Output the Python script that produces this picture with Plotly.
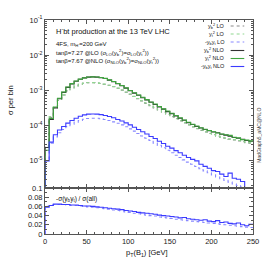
import plotly.graph_objects as go

# ---------------- data ----------------
bin_edges = list(range(0, 255, 5))  # 0..250, 50 bins

yb2_lo = [2.6e-5, 1.7e-4, 3.2e-4, 5.2e-4, 7.4e-4, 9.7e-4, 1.18e-3, 1.35e-3, 1.5e-3, 1.6e-3,
          1.65e-3, 1.66e-3, 1.63e-3, 1.58e-3, 1.5e-3, 1.4e-3, 1.28e-3, 1.15e-3, 1.02e-3, 8.9e-4,
          7.8e-4, 6.7e-4, 5.8e-4, 5.0e-4, 4.3e-4, 3.7e-4, 3.2e-4, 2.8e-4, 2.4e-4, 2.1e-4,
          1.8e-4, 1.58e-4, 1.37e-4, 1.2e-4, 1.05e-4, 9.2e-5, 8.2e-5, 7.3e-5, 6.6e-5, 6.0e-5,
          5.5e-5, 5.0e-5, 4.7e-5, 4.4e-5, 4.1e-5, 3.9e-5, 3.7e-5, 3.5e-5, 3.3e-5, 3.2e-5]
yt2_lo = [2.4e-5, 1.8e-4, 3.3e-4, 5.3e-4, 7.5e-4, 9.8e-4, 1.19e-3, 1.36e-3, 1.5e-3, 1.61e-3,
          1.66e-3, 1.67e-3, 1.64e-3, 1.59e-3, 1.51e-3, 1.41e-3, 1.29e-3, 1.16e-3, 1.03e-3, 9.0e-4,
          7.9e-4, 6.8e-4, 5.9e-4, 5.1e-4, 4.4e-4, 3.8e-4, 3.3e-4, 2.85e-4, 2.45e-4, 2.15e-4,
          1.85e-4, 1.6e-4, 1.4e-4, 1.22e-4, 1.07e-4, 9.4e-5, 8.3e-5, 7.5e-5, 6.7e-5, 6.1e-5,
          5.6e-5, 5.1e-5, 4.8e-5, 4.5e-5, 4.2e-5, 4.0e-5, 3.8e-5, 3.6e-5, 3.4e-5, 3.3e-5]
ybyt_lo = [1.1e-5, 3.2e-5, 4.8e-5, 6.3e-5, 7.8e-5, 9.4e-5, 1.1e-4, 1.26e-4, 1.4e-4, 1.52e-4,
           1.6e-4, 1.63e-4, 1.62e-4, 1.57e-4, 1.5e-4, 1.4e-4, 1.28e-4, 1.17e-4, 1.05e-4, 9.3e-5,
           8.1e-5, 7.0e-5, 6.0e-5, 5.1e-5, 4.4e-5, 3.8e-5, 3.2e-5, 2.75e-5, 2.35e-5, 2.0e-5,
           1.7e-5, 1.45e-5, 1.25e-5, 1.07e-5, 9.2e-6, 8.0e-6, 6.9e-6, 6.0e-6, 5.2e-6, 4.6e-6,
           4.0e-6, 3.5e-6, 3.1e-6, 2.8e-6, 2.5e-6, 2.2e-6, 2.0e-6, 1.8e-6, 1.6e-6, 1.4e-6]
yb2_nlo = [2.4e-5, 1.5e-4, 3.2e-4, 5.8e-4, 8.8e-4, 1.22e-3, 1.53e-3, 1.83e-3, 2.08e-3, 2.27e-3,
           2.38e-3, 2.42e-3, 2.38e-3, 2.3e-3, 2.18e-3, 1.96e-3, 1.77e-3, 1.56e-3, 1.36e-3, 1.16e-3,
           9.9e-4, 8.4e-4, 7.3e-4, 6.2e-4, 5.4e-4, 4.6e-4, 4.0e-4, 3.4e-4, 2.95e-4, 2.5e-4,
           2.2e-4, 1.9e-4, 1.63e-4, 1.43e-4, 1.22e-4, 1.08e-4, 9.5e-5, 8.6e-5, 7.8e-5, 7.2e-5,
           6.6e-5, 6.3e-5, 5.7e-5, 5.4e-5, 5.0e-5, 4.6e-5, 4.4e-5, 4.1e-5, 3.8e-5, 3.6e-5]
yt2_nlo = [2.0e-5, 1.6e-4, 3.4e-4, 6.0e-4, 9.0e-4, 1.25e-3, 1.56e-3, 1.85e-3, 2.1e-3, 2.28e-3,
           2.4e-3, 2.43e-3, 2.4e-3, 2.32e-3, 2.2e-3, 2.0e-3, 1.8e-3, 1.58e-3, 1.38e-3, 1.18e-3,
           1.0e-3, 8.6e-4, 7.4e-4, 6.4e-4, 5.5e-4, 4.7e-4, 4.1e-4, 3.5e-4, 3.0e-4, 2.6e-4,
           2.25e-4, 1.95e-4, 1.68e-4, 1.45e-4, 1.25e-4, 1.1e-4, 9.8e-5, 8.7e-5, 7.9e-5, 7.3e-5,
           6.7e-5, 6.2e-5, 5.8e-5, 5.5e-5, 5.3e-5, 4.7e-5, 4.5e-5, 4.0e-5, 3.9e-5, 3.7e-5]
ybyt_nlo = [1.0e-5, 3.4e-5, 5.5e-5, 7.5e-5, 9.5e-5, 1.18e-4, 1.4e-4, 1.62e-4, 1.85e-4, 2.02e-4,
            2.12e-4, 2.15e-4, 2.12e-4, 2.05e-4, 1.95e-4, 1.82e-4, 1.68e-4, 1.5e-4, 1.35e-4, 1.2e-4,
            1.05e-4, 9.0e-5, 7.8e-5, 6.7e-5, 5.8e-5, 4.9e-5, 4.3e-5, 3.6e-5, 3.1e-5, 2.6e-5,
            2.3e-5, 1.95e-5, 1.7e-5, 1.45e-5, 1.25e-5, 1.1e-5, 1.0e-5, 8.0e-6, 7.0e-6, 6.2e-6,
            5.3e-6, 5.0e-6, 4.2e-6, 3.6e-6, 4.5e-6, 3.2e-6, 3.0e-6, 2.6e-6, 1.5e-6, 1.5e-6]

ratio_lo = [0.060, 0.063, 0.064, 0.064, 0.064, 0.063, 0.062, 0.062, 0.061, 0.060,
            0.059, 0.058, 0.057, 0.056, 0.055, 0.054, 0.052, 0.051, 0.050, 0.048,
            0.047, 0.045, 0.044, 0.043, 0.041, 0.040, 0.039, 0.037, 0.036, 0.035,
            0.034, 0.032, 0.031, 0.030, 0.029, 0.028, 0.027, 0.026, 0.025, 0.024,
            0.023, 0.022, 0.021, 0.020, 0.019, 0.018, 0.017, 0.016, 0.015, 0.014]
ratio_nlo = [0.058, 0.062, 0.065, 0.065, 0.064, 0.064, 0.063, 0.063, 0.062, 0.061,
             0.061, 0.060, 0.059, 0.058, 0.057, 0.056, 0.055, 0.054, 0.053, 0.051,
             0.050, 0.049, 0.047, 0.046, 0.045, 0.044, 0.043, 0.041, 0.040, 0.039,
             0.038, 0.037, 0.035, 0.036, 0.033, 0.032, 0.031, 0.030, 0.031, 0.028,
             0.027, 0.029, 0.025, 0.026, 0.023, 0.022, 0.024, 0.020, 0.018, 0.021]

y_tickvals = [1e-5, 1e-4, 1e-3, 1e-2, 1e-1]
y_ticktext = ["10<sup>-5</sup>", "10<sup>-4</sup>", "10<sup>-3</sup>", "10<sup>-2</sup>", "10<sup>-1</sup>"]
legend_labels = ["y<sub>b</sub><sup>2</sup> LO", "y<sub>t</sub><sup>2</sup> LO", "-y<sub>b</sub>y<sub>t</sub> LO",
                 "y<sub>b</sub><sup>2</sup> NLO", "y<sub>t</sub><sup>2</sup> NLO", "-y<sub>b</sub>y<sub>t</sub> NLO"]

# ---------------- styles ----------------
C_GRAY, C_LGREEN, C_LBLUE = "#8a8a8a", "#8fd88f", "#8888ff"
C_BLACK, C_GREEN, C_BLUE = "#333333", "#3fa53f", "#3b3bff"
FONT = "Liberation Sans, Arial, sans-serif"


def steps(vals, floor):
    x = [bin_edges[0]] + bin_edges
    y = [floor] + list(vals) + [vals[-1]]
    return x, y


fig = go.Figure()
series = [
    (yb2_lo, C_GRAY, "dot"), (yt2_lo, C_LGREEN, "dot"), (ybyt_lo, C_LBLUE, "dot"),
    (yb2_nlo, C_BLACK, "solid"), (yt2_nlo, C_GREEN, "solid"), (ybyt_nlo, C_BLUE, "solid"),
]
for vals, col, dash in series:
    x, y = steps(vals, 1e-12)
    fig.add_trace(go.Scatter(x=x, y=y, mode="lines", line=dict(color=col, width=1.1, dash=dash, shape="hv"),
                             xaxis="x", yaxis="y", showlegend=False, hoverinfo="skip"))

for vals, col, dash in [(ratio_lo, C_LBLUE, "dot"), (ratio_nlo, C_BLUE, "solid")]:
    x, y = steps(vals, 0)
    fig.add_trace(go.Scatter(x=x, y=y, mode="lines", line=dict(color=col, width=1.1, dash=dash, shape="hv"),
                             xaxis="x2", yaxis="y2", showlegend=False, hoverinfo="skip"))

axcol = "#555555"
common = dict(showline=True, linecolor=axcol, linewidth=1, mirror="allticks", ticks="inside",
              tickcolor=axcol, ticklen=4, showgrid=False, zeroline=False,
              tickfont=dict(size=7.5, color="#222", family=FONT))

fig.update_layout(
    width=271, height=264,
    margin=dict(l=45, r=12, t=20, b=30),
    paper_bgcolor="white", plot_bgcolor="white",
    font=dict(family=FONT, color="#111"),
    hovermode=False,
    xaxis=dict(domain=[0, 1], anchor="y", range=[0, 250], matches="x2", showticklabels=False,
               minor=dict(ticks="inside", ticklen=2, dtick=10, tickcolor=axcol), dtick=50, **common),
    yaxis=dict(domain=[0.215, 1], anchor="x", type="log", range=[-5.77, -1],
               tickvals=y_tickvals, ticktext=y_ticktext,
               minor=dict(ticks="inside", ticklen=2, dtick="D1", tickcolor=axcol), **common),
    xaxis2=dict(domain=[0, 1], anchor="y2", range=[0, 250], dtick=50,
                minor=dict(ticks="inside", ticklen=2, dtick=10, tickcolor=axcol), **common),
    yaxis2=dict(domain=[0, 0.215], anchor="x2", range=[0, 0.1], dtick=0.02,
                tickvals=[0, 0.02, 0.04, 0.06, 0.08, 0.1], ticktext=["0", "0.02", "0.04", "0.06", "0.08", "0.1"],
                minor=dict(ticks="inside", ticklen=2, dtick=0.01, tickcolor=axcol), **common),
)


def px2paper(px, py):
    return (px - 45) / 214.0, (234 - py) / 214.0


anns = []
def ann(text, px, py, size, xanchor="left", angle=0, color="#111"):
    xp, yp = px2paper(px, py)
    anns.append(dict(text=text, x=xp, y=yp, xref="paper", yref="paper", showarrow=False,
                     xanchor=xanchor, yanchor="middle", textangle=angle,
                     font=dict(size=size, color=color, family=FONT)))

ann("H<sup>-</sup>bt production at the 13 TeV LHC", 54, 31, 7.5)
ann("4FS, m<sub>H<sup>-</sup></sub>=200 GeV", 54, 44, 6)
ann("tanβ=7.27 @LO (σ<sub>LO</sub>(y<sub>b</sub><sup>2</sup>)=σ<sub>LO</sub>(y<sub>t</sub><sup>2</sup>))", 54, 52.5, 6)
ann("tanβ=7.67 @NLO (σ<sub>NLO</sub>(y<sub>b</sub><sup>2</sup>)=σ<sub>NLO</sub>(y<sub>t</sub><sup>2</sup>))", 54, 61, 6)
ann("-σ(y<sub>b</sub>y<sub>t</sub>) / σ(all)", 54, 199, 6.5)
ann("σ per bin", 9, 100, 7.5, xanchor="center", angle=-90)
ann("p<sub>T</sub>(B<sub>1</sub>) [GeV]", 150, 253, 7.5, xanchor="center")
ann("MadGraph5_aMC@NLO", 265, 135, 5, xanchor="center", angle=-90, color="#444")

shapes = []
leg_rows = [26, 34, 42, 50.5, 58.5, 66.5]
leg_styles = [(C_GRAY, "dot"), (C_LGREEN, "dot"), (C_LBLUE, "dot"),
              (C_BLACK, "solid"), (C_GREEN, "solid"), (C_BLUE, "solid")]
for lab, py, (col, dash) in zip(legend_labels, leg_rows, leg_styles):
    ann(lab, 232, py, 5.5, xanchor="right")
    x0, y0 = px2paper(236, py)
    x1, _ = px2paper(250, py)
    shapes.append(dict(type="line", xref="paper", yref="paper", x0=x0, x1=x1, y0=y0, y1=y0,
                       line=dict(color=col, width=1.1, dash=dash)))

fig.update_layout(annotations=anns, shapes=shapes)
fig.write_html("out.html", config={"displayModeBar": False, "staticPlot": True},
               post_script="document.body.style.margin='0';document.body.style.overflow='hidden';")
